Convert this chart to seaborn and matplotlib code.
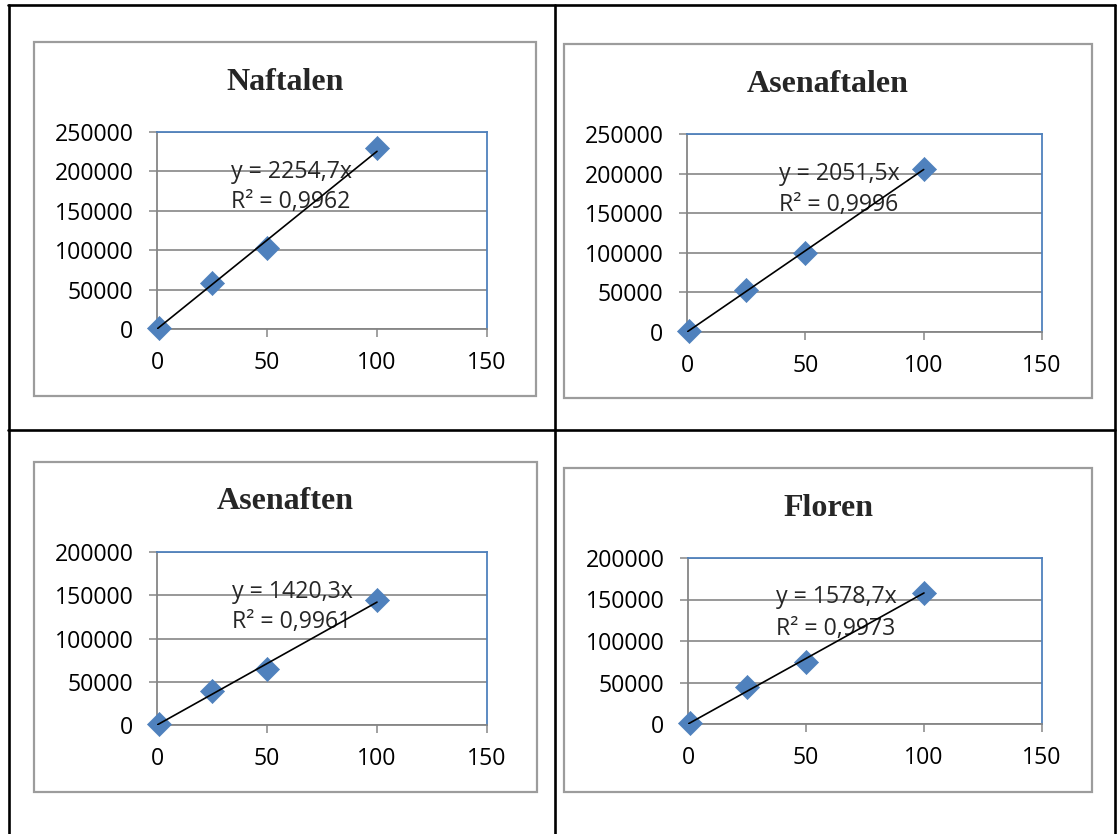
import matplotlib
matplotlib.use("Agg")
import matplotlib.pyplot as plt
import seaborn as sns
import numpy as np
import pandas as pd
from matplotlib.lines import Line2D
from matplotlib.patches import Rectangle

# ---------------- data ----------------
titles = ["Naftalen", "Asenaftalen", "Asenaften", "Floren"]
conc = [1, 25, 50, 100]
naftalen = [1000, 59000, 103000, 230000]
asenaftalen = [1000, 53000, 100000, 206000]
asenaften = [1000, 39000, 65000, 144000]
floren = [1000, 45000, 75000, 158000]
slopes = [2254.7, 2051.5, 1420.3, 1578.7]
r_squared = [0.9962, 0.9996, 0.9961, 0.9973]
y_max = [250000, 250000, 200000, 200000]
y_step = 50000
x_ticks = [0, 50, 100, 150]
series = [naftalen, asenaftalen, asenaften, floren]

# ---------------- layout (pixels) ----------------
W, H = 1117, 834
plot_boxes = [(157, 132, 487, 329), (687, 134, 1042, 332),
              (157, 552, 487, 725), (688, 558, 1042, 724)]
frame_boxes = [(34, 42, 536, 396), (564, 44, 1092, 398),
               (34, 462, 537, 792), (564, 468, 1092, 792)]
title_y = [82, 84, 501, 508]
text_pos = [(0.224, 0.797, 0.645), (0.26, 0.80, 0.64),
            (0.227, 0.77, 0.595), (0.25, 0.765, 0.572)]

sns.set_style("white")
plt.rcParams["font.family"] = ["Open Sans", "DejaVu Sans"]

fig = plt.figure(figsize=(W / 100, H / 100), dpi=100)
fig.patch.set_facecolor("white")

def fx(px):
    return px / W

def fy(py):
    return 1 - py / H

# table lines
tbl = dict(color="black", lw=1.9, transform=fig.transFigure)
fig.add_artist(Line2D([fx(8), fx(1115)], [fy(5), fy(5)], **tbl))
fig.add_artist(Line2D([fx(8.5), fx(8.5)], [fy(5), fy(834)], **tbl))
fig.add_artist(Line2D([fx(1115), fx(1115)], [fy(5), fy(834)], **tbl))
fig.add_artist(Line2D([fx(555), fx(555)], [fy(5), fy(834)], **tbl))
fig.add_artist(Line2D([fx(8), fx(1115)], [fy(430), fy(430)], **tbl))

# chart frames
for (x0, y0, x1, y1) in frame_boxes:
    fig.add_artist(Rectangle((fx(x0), fy(y1)), fx(x1 - x0), (y1 - y0) / H,
                             transform=fig.transFigure, fill=False,
                             edgecolor="#9c9c9c", lw=1.6))

blue = "#4F81BD"
gray = "#868686"
fs = 16.7

for i in range(4):
    x0, y0, x1, y1 = plot_boxes[i]
    ax = fig.add_axes([fx(x0), fy(y1), fx(x1 - x0), (y1 - y0) / H])
    df = pd.DataFrame({"x": conc, "y": series[i]})
    sns.scatterplot(data=df, x="x", y="y", ax=ax, marker="D", s=150,
                    color=blue, edgecolor=blue, linewidth=0.5,
                    clip_on=False, zorder=3)
    xl = np.array([0, max(conc)])
    ax.plot(xl, slopes[i] * xl, color="black", lw=1.2, zorder=4)

    ax.set_xlim(0, 150)
    ax.set_ylim(0, y_max[i])
    ax.set_xticks(x_ticks)
    ax.set_yticks(np.arange(0, y_max[i] + 1, y_step))
    ax.set_xticklabels([str(v) for v in x_ticks])
    ax.set_yticklabels([str(int(v)) for v in np.arange(0, y_max[i] + 1, y_step)])
    ax.set_xlabel("")
    ax.set_ylabel("")

    ax.yaxis.grid(True, color=gray, lw=1.2, zorder=0)
    ax.xaxis.grid(False)
    ax.set_axisbelow(True)
    for side in ["left", "bottom"]:
        ax.spines[side].set_color(gray)
        ax.spines[side].set_linewidth(1.3)
    for side in ["top", "right"]:
        ax.spines[side].set_color(blue)
        ax.spines[side].set_linewidth(1.3)
    ax.tick_params(axis="both", direction="out", length=6, width=1.1,
                   color=gray, labelsize=fs, labelcolor="black")
    ax.tick_params(axis="y", pad=11, left=True)
    ax.tick_params(axis="x", pad=10, bottom=True)

    tx, ty1, ty2 = text_pos[i]
    eq = ("y = %s" % ("%.1f" % slopes[i]).replace(".", ",")) + "x"
    rr = "R² = " + ("%.4f" % r_squared[i]).replace(".", ",")
    ax.text(tx, ty1, eq, transform=ax.transAxes, fontsize=fs,
            va="center", ha="left", zorder=2)
    ax.text(tx, ty2, rr, transform=ax.transAxes, fontsize=fs,
            va="center", ha="left", zorder=2)

    fxb0, _, fxb1, _ = frame_boxes[i]
    fig.text(fx((fxb0 + fxb1) / 2), fy(title_y[i]), titles[i],
             family=["Liberation Serif", "DejaVu Serif"], weight="bold",
             fontsize=23, ha="center", va="center")

fig.savefig("out.png", dpi=100, facecolor="white")
